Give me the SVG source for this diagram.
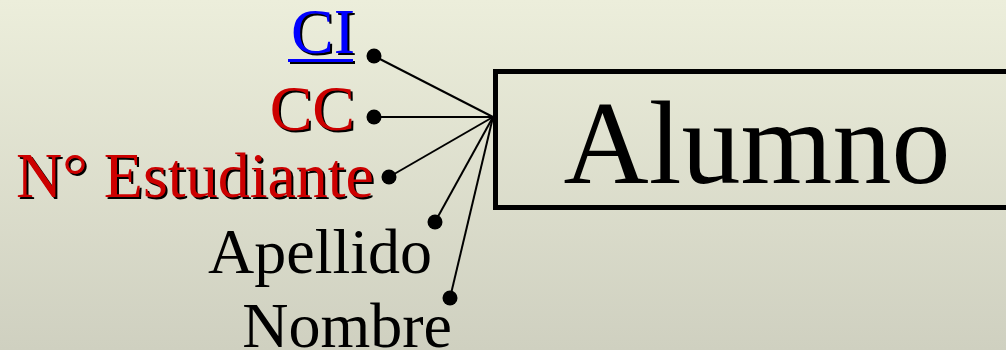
<svg xmlns="http://www.w3.org/2000/svg" width="1006" height="350" viewBox="0 0 1006 350">
<defs>
<linearGradient id="bg" x1="0" y1="0" x2="0" y2="1">
<stop offset="0" stop-color="#ECEEDB"/>
<stop offset="1" stop-color="#CFD0C0"/>
</linearGradient>
</defs>
<style>
.t{font-family:"Liberation Serif","Times New Roman",serif;font-size:64px;text-anchor:end}
.sh{fill:#000}
.red{fill:#CC0000}
.blue{fill:#0000FF}
.blk{fill:#000}
.conn line{stroke:#000;stroke-width:2}
.dot{fill:#000}
</style>
<rect width="1006" height="350" fill="url(#bg)"/>
<g id="connectors" class="conn">
<line x1="374" y1="56" x2="493" y2="117"/>
<line x1="374" y1="117" x2="493" y2="117"/>
<line x1="389" y1="177" x2="493" y2="117"/>
<line x1="435" y1="222" x2="493" y2="117"/>
<line x1="450" y1="298" x2="493" y2="117"/>
</g>
<g id="alumno">
<rect x="495.5" y="71.5" width="520" height="136" fill="none" stroke="#000" stroke-width="5"/>
<text x="757" y="183" style="font-family:'Liberation Serif','Times New Roman',serif;font-size:118px;text-anchor:middle" fill="#000">Alumno</text>
</g>
<g id="attr-ci">
<circle class="dot" cx="374" cy="56" r="7.5"/>
<text class="t sh" x="357" y="55">CI</text>
<rect class="sh" x="290" y="61" width="65" height="3"/>
<text class="t blue" x="355" y="53">CI</text>
<rect class="blue" x="288" y="59" width="65" height="3"/>
</g>
<g id="attr-cc">
<circle class="dot" cx="374" cy="117" r="7.5"/>
<text class="t sh" x="357" y="132">CC</text>
<text class="t red" x="355" y="130">CC</text>
</g>
<g id="attr-nest">
<circle class="dot" cx="389" cy="177" r="7.5"/>
<text class="t sh" x="376" y="199">N° Estudiante</text>
<text class="t red" x="374" y="197">N° Estudiante</text>
</g>
<g id="attr-apellido">
<circle class="dot" cx="435" cy="222" r="7.5"/>
<text class="t blk" x="432" y="273">Apellido</text>
</g>
<g id="attr-nombre">
<circle class="dot" cx="450" cy="298" r="7.5"/>
<text class="t blk" x="452" y="347">Nombre</text>
</g>
</svg>
